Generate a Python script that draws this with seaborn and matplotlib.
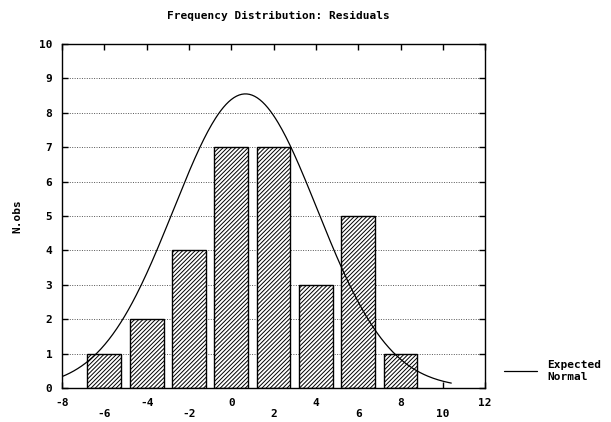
import numpy as np
import pandas as pd
import matplotlib
matplotlib.use("Agg")
import matplotlib.pyplot as plt
import seaborn as sns

# Data
bin_centers = [-6, -4, -2, 0, 2, 4, 6, 8]
counts = [1, 2, 4, 7, 7, 3, 5, 1]
x_ticks = [-8, -6, -4, -2, 0, 2, 4, 6, 8, 10, 12]
y_ticks = [0, 1, 2, 3, 4, 5, 6, 7, 8, 9, 10]
norm_mean = 0.67
norm_sd = 3.4
norm_peak = 8.55
curve_start, curve_end = -8.0, 10.4

sns.set_theme(style="white")
plt.rcParams['font.family'] = ['DejaVu Sans Mono', 'DejaVu Sans']
plt.rcParams['hatch.linewidth'] = 0.7
plt.rcParams['text.color'] = 'black'
plt.rcParams['xtick.color'] = 'black'
plt.rcParams['ytick.color'] = 'black'
plt.rcParams['axes.labelcolor'] = 'black'

fig = plt.figure(figsize=(6.11, 4.22), dpi=100)
ax = fig.add_axes([0.1015, 0.0806, 0.6925, 0.8151])

df = pd.DataFrame({"x": bin_centers, "n": counts})
sns.barplot(data=df, x="x", y="n", native_scale=True, width=0.8,
            color="white", edgecolor="black", linewidth=1.0, ax=ax,
            saturation=1, zorder=2)
for p in ax.patches:
    p.set_hatch("////////")
    p.set_edgecolor("black")
    p.set_facecolor("white")

xs = np.linspace(curve_start, curve_end, 300)
ys = norm_peak * np.exp(-0.5 * ((xs - norm_mean) / norm_sd) ** 2)
sns.lineplot(x=xs, y=ys, color="black", linewidth=0.9, ax=ax, zorder=3,
             label="Expected\nNormal")

ax.set_xlim(-8, 12)
ax.set_ylim(0, 10)
ax.set_xticks(x_ticks)
ax.set_xticklabels([str(t) if i % 2 == 0 else "\n" + str(t)
                    for i, t in enumerate(x_ticks)],
                   fontsize=8, fontweight="bold")
ax.set_yticks(y_ticks)
ax.set_yticklabels([str(t) for t in y_ticks], fontsize=8, fontweight="bold")
ax.tick_params(axis="both", direction="in", length=4, width=1, color="black",
               top=True, right=True, bottom=True, left=True, pad=7)
ax.yaxis.grid(True, linestyle=(0, (1, 1.5)), color="#555555", linewidth=0.7)
ax.xaxis.grid(False)
ax.set_axisbelow(True)
for s in ax.spines.values():
    s.set_visible(True)
    s.set_color("black")
    s.set_linewidth(1.0)

ax.set_xlabel("")
ax.set_ylabel("N.obs", fontsize=8, fontweight="bold", labelpad=12)
fig.suptitle("Frequency Distribution: Residuals", fontsize=8,
             fontweight="bold", x=0.455, y=0.975)

leg = ax.legend(loc="center left", bbox_to_anchor=(1.02, 0.05), frameon=False,
                handlelength=3.0, handletextpad=0.9,
                prop={"size": 8, "weight": "bold"})

fig.savefig("out.png", dpi=100)
